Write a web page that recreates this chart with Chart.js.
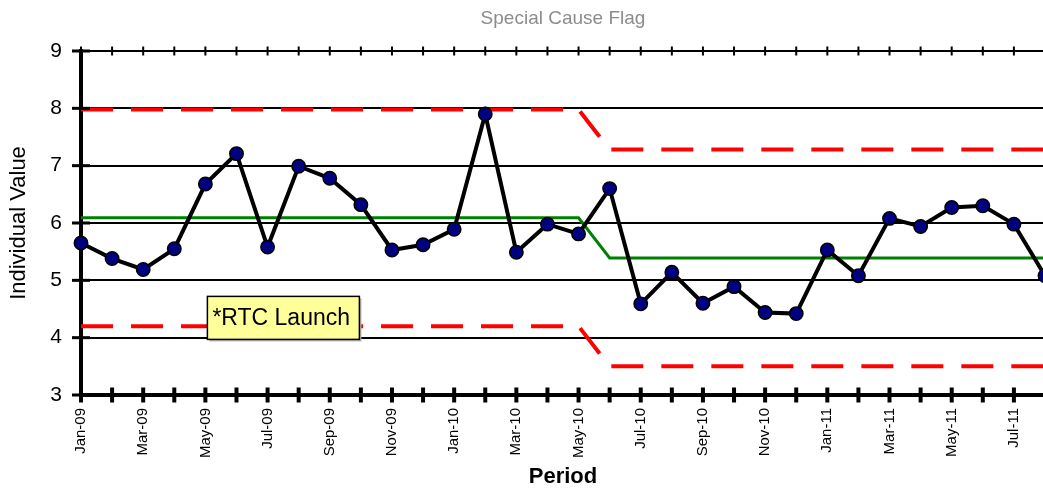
<!DOCTYPE html>
<html>
<head>
<meta charset="utf-8">
<script src="https://cdn.jsdelivr.net/npm/chart.js@4"></script>
<style>
  html, body { margin: 0; padding: 0; background: #fff; overflow: hidden; width: 1043px; height: 491px; }
  #wrap { position: absolute; left: 0; top: 0; width: 1060px; height: 491px; }
</style>
</head>
<body>
<div id="wrap"><canvas id="c"></canvas></div>
<script>
const categories = ['Jan-09','Feb-09','Mar-09','Apr-09','May-09','Jun-09','Jul-09','Aug-09','Sep-09','Oct-09','Nov-09','Dec-09',
  'Jan-10','Feb-10','Mar-10','Apr-10','May-10','Jun-10','Jul-10','Aug-10','Sep-10','Oct-10','Nov-10','Dec-10',
  'Jan-11','Feb-11','Mar-11','Apr-11','May-11','Jun-11','Jul-11','Aug-11'];
const individualValues = [5.65,5.38,5.19,5.55,6.68,7.21,5.58,6.99,6.78,6.32,5.53,5.62,
  5.89,7.90,5.49,5.98,5.81,6.60,4.59,5.14,4.60,4.89,4.44,4.42,
  5.53,5.08,6.08,5.94,6.27,6.30,5.98,5.08];
const centerLine = [6.09,6.09,6.09,6.09,6.09,6.09,6.09,6.09,6.09,6.09,6.09,6.09,
  6.09,6.09,6.09,6.09,6.09,5.39,5.39,5.39,5.39,5.39,5.39,5.39,
  5.39,5.39,5.39,5.39,5.39,5.39,5.39,5.39];
const upperLimit = [7.98,7.98,7.98,7.98,7.98,7.98,7.98,7.98,7.98,7.98,7.98,7.98,
  7.98,7.98,7.98,7.98,7.98,7.28,7.28,7.28,7.28,7.28,7.28,7.28,
  7.28,7.28,7.28,7.28,7.28,7.28,7.28,7.28];
const lowerLimit = [4.20,4.20,4.20,4.20,4.20,4.20,4.20,4.20,4.20,4.20,4.20,4.20,
  4.20,4.20,4.20,4.20,4.20,3.50,3.50,3.50,3.50,3.50,3.50,3.50,
  3.50,3.50,3.50,3.50,3.50,3.50,3.50,3.50];
const yTicks = [3,4,5,6,7,8,9];
const chartTitle = 'Special Cause Flag';
const xTitle = 'Period';
const yTitle = 'Individual Value';
const annotationText = '*RTC Launch';

const FONT = "'Liberation Sans', Arial, sans-serif";

const decorations = {
  id: 'decorations',
  afterDraw(chart) {
    const ctx = chart.ctx;
    const xs = chart.scales.x, ys = chart.scales.y;
    const a = chart.chartArea;
    ctx.save();
    ctx.strokeStyle = '#000';
    ctx.lineWidth = 2;
    ctx.beginPath();
    ctx.moveTo(a.left, a.top); ctx.lineTo(a.right, a.top);
    ctx.stroke();
    for (let i = 0; i < categories.length; i++) {
      const x = xs.getPixelForValue(i);
      ctx.beginPath(); ctx.moveTo(x, a.top - 4.5); ctx.lineTo(x, a.top + 4.5); ctx.stroke();
    }
    ctx.lineWidth = 4;
    for (let i = 0; i < categories.length; i++) {
      const x = xs.getPixelForValue(i);
      ctx.beginPath(); ctx.moveTo(x, a.bottom - 7.5); ctx.lineTo(x, a.bottom + 7.5); ctx.stroke();
    }
    ctx.lineWidth = 3;
    yTicks.forEach(v => {
      const y = ys.getPixelForValue(v);
      ctx.beginPath(); ctx.moveTo(a.left - 9, y); ctx.lineTo(a.left + 9, y); ctx.stroke();
    });
    ctx.fillStyle = '#8c8c8c';
    ctx.font = '19px ' + FONT;
    ctx.textAlign = 'center';
    ctx.textBaseline = 'alphabetic';
    ctx.fillText(chartTitle, (a.left + a.right) / 2, 24);
    ctx.restore();
  },
  afterDatasetsDraw(chart) {
    const ctx = chart.ctx;
    const xs = chart.scales.x, ys = chart.scales.y;
    const left = xs.getPixelForValue(4) + 2;
    const top = ys.getPixelForValue(4.72);
    const w = 152, h = 43;
    ctx.save();
    ctx.fillStyle = '#b0b0b0';
    ctx.fillRect(left + 2, top + 2, w, h);
    ctx.fillStyle = '#ffff99';
    ctx.fillRect(left, top, w, h);
    ctx.strokeStyle = '#000';
    ctx.lineWidth = 1.5;
    ctx.strokeRect(left, top, w, h);
    ctx.fillStyle = '#000';
    ctx.font = '23px ' + FONT;
    ctx.textAlign = 'left';
    ctx.textBaseline = 'middle';
    ctx.fillText(annotationText, left + 5, top + h / 2 + 1);
    ctx.restore();
  }
};

const TARGET_RIGHT = 1045;

const chart = new Chart(document.getElementById('c'), {
  type: 'line',
  data: {
    labels: categories,
    datasets: [
      {
        label: 'Individual Value', data: individualValues, order: 0,
        borderColor: '#000', borderWidth: 4, tension: 0,
        pointBackgroundColor: '#000080', pointBorderColor: '#000', pointBorderWidth: 1.5,
        pointRadius: 6.7, pointHoverRadius: 6.7, clip: false
      },
      {
        label: 'CL', data: centerLine, order: 1,
        borderColor: '#008000', borderWidth: 3, pointRadius: 0, tension: 0, clip: false
      },
      {
        label: 'UCL', data: upperLimit, order: 2,
        borderColor: '#ff0000', borderWidth: 4, borderDash: [32, 18], borderCapStyle: 'butt',
        pointRadius: 0, tension: 0, clip: false
      },
      {
        label: 'LCL', data: lowerLimit, order: 3,
        borderColor: '#ff0000', borderWidth: 4, borderDash: [32, 18], borderCapStyle: 'butt',
        pointRadius: 0, tension: 0, clip: false
      }
    ]
  },
  options: {
    responsive: true,
    maintainAspectRatio: false,
    animation: false,
    events: [],
    layout: { padding: { top: 51, left: 0, right: 0, bottom: 0 } },
    plugins: { legend: { display: false }, title: { display: false }, tooltip: { enabled: false } },
    scales: {
      x: {
        type: 'category',
        offset: false,
        grid: { display: false, drawTicks: false },
        border: { display: true, color: '#000', width: 4 },
        ticks: {
          autoSkip: false, maxRotation: 90, minRotation: 90, padding: 13,
          color: '#000', font: { family: FONT, size: 15 },
          callback: function (v, i) { return i % 2 === 0 ? categories[i] : ''; }
        },
        title: { display: true, text: xTitle, color: '#000', font: { family: FONT, size: 22, weight: 'bold' }, padding: { top: 0, bottom: 1 } },
        afterFit: function (s) { s.height = 96; }
      },
      y: {
        min: 3, max: 9,
        grid: { display: true, color: '#000', lineWidth: 2, drawTicks: false },
        border: { display: true, color: '#000', width: 4 },
        ticks: { stepSize: 1, padding: 19, color: '#000', font: { family: FONT, size: 21 } },
        title: { display: true, text: yTitle, color: '#000', font: { family: FONT, size: 22 }, padding: { top: 6, bottom: 0 } },
        afterFit: function (s) { s.width = 81; }
      }
    }
  },
  plugins: [decorations]
});

const wrap = document.getElementById('wrap');
const diff = chart.chartArea.right - TARGET_RIGHT;
if (Math.abs(diff) > 0.5) {
  wrap.style.width = (1060 - diff) + 'px';
  chart.resize();
}
</script>
</body>
</html>
